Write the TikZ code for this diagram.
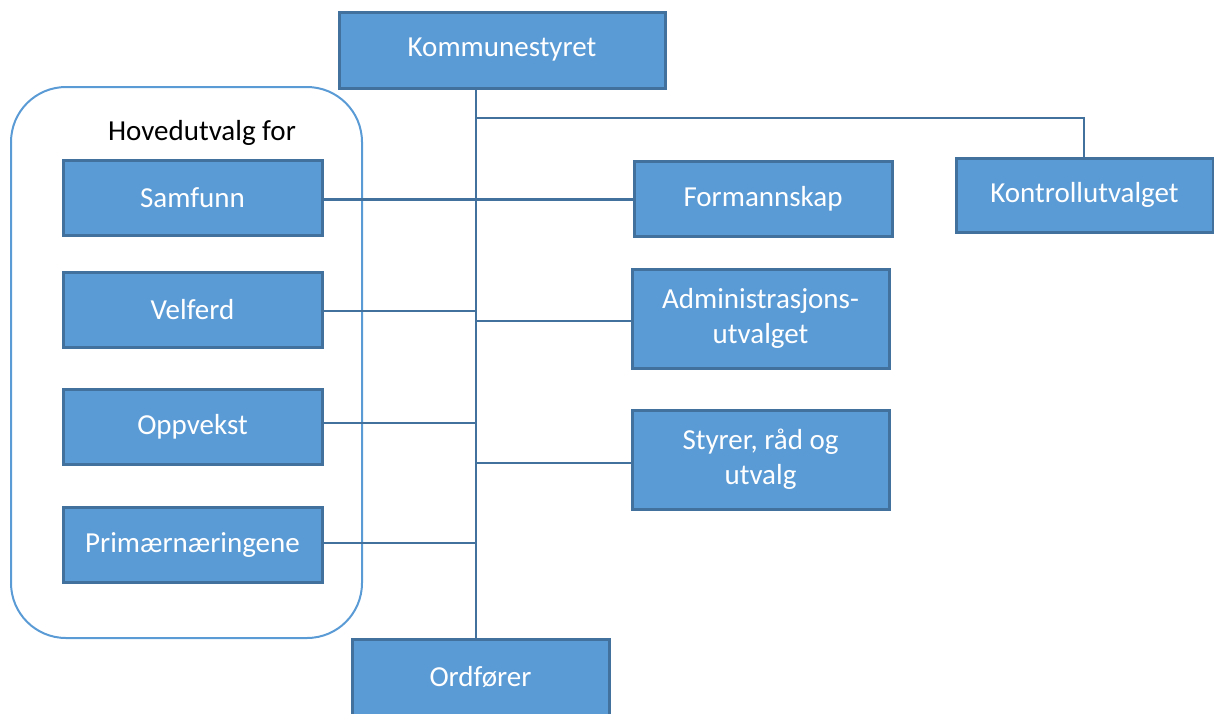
\documentclass[tikz,border=0pt]{standalone}
\usepackage{fontspec}
\setmainfont{Carlito}
\definecolor{fillc}{HTML}{5B9BD5}
\definecolor{bordc}{HTML}{41719C}
\definecolor{groupc}{HTML}{5B9BD5}
\begin{document}
\begin{tikzpicture}[x=1pt,y=-1pt,
  box/.style={draw=bordc, fill=fillc, line width=3pt, text=white, inner sep=0pt, align=center,
    minimum width=257pt, minimum height=75pt, font=\fontsize{29}{35}\selectfont},
  conn/.style={draw=bordc, line width=2.5pt},
  group/.style={draw=groupc, line width=2pt, rounded corners=55pt}]
\useasboundingbox (0,0) rectangle (1214,713);
\draw[group] (11,87) rectangle (362,638);
\node[font=\fontsize{29}{35}\selectfont, text=black] (hov) at (202,133) {Hovedutvalg for};
\coordinate (tx) at (476,0);
\coordinate (kb) at (1084,118);
\node[box, minimum width=326pt, minimum height=76pt] (K) at (502,50) {Kommunestyret};
\node[box, minimum height=74pt] (KU) at (1084.5,195) {Kontrollutvalget};
\node[box, minimum width=259pt] (S) at (192.5,198) {Samfunn};
\node[box, minimum width=259pt] (V) at (192.5,310) {Velferd};
\node[box, minimum width=259pt] (Op) at (192.5,427) {Oppvekst};
\node[box, minimum width=259pt] (P) at (192.5,545) {Primærnæringene};
\node[box, minimum width=258pt] (F) at (763,198.5) {Formannskap};
\node[box, minimum height=99pt] (A) at (760.5,318.5) {Administrasjons-\\utvalget};
\node[box, minimum height=99pt] (St) at (760.5,459.5) {Styrer, råd og\\utvalg};
\node[box, minimum height=76pt] (O) at (480.5,677) {Ordfører};
\draw[conn] (K.south -| tx) -- (O.north -| tx);
\draw[conn] (kb -| tx) -- (kb) -- (KU.north -| kb);
\draw[conn] ([yshift=-1.5pt]S.east) -- ([yshift=-1.5pt]S.east -| F.west);
\draw[conn] ([yshift=-1pt]V.east) -- ([yshift=-1pt]V.east -| tx);
\draw[conn] ([yshift=4pt]Op.east) -- ([yshift=4pt]Op.east -| tx);
\draw[conn] ([yshift=2pt]P.east) -- ([yshift=2pt]P.east -| tx);
\draw[conn] ([yshift=-2.5pt]A.west -| tx) -- ([yshift=-2.5pt]A.west);
\draw[conn] ([yshift=-3.5pt]St.west -| tx) -- ([yshift=-3.5pt]St.west);
\end{tikzpicture}
\end{document}
